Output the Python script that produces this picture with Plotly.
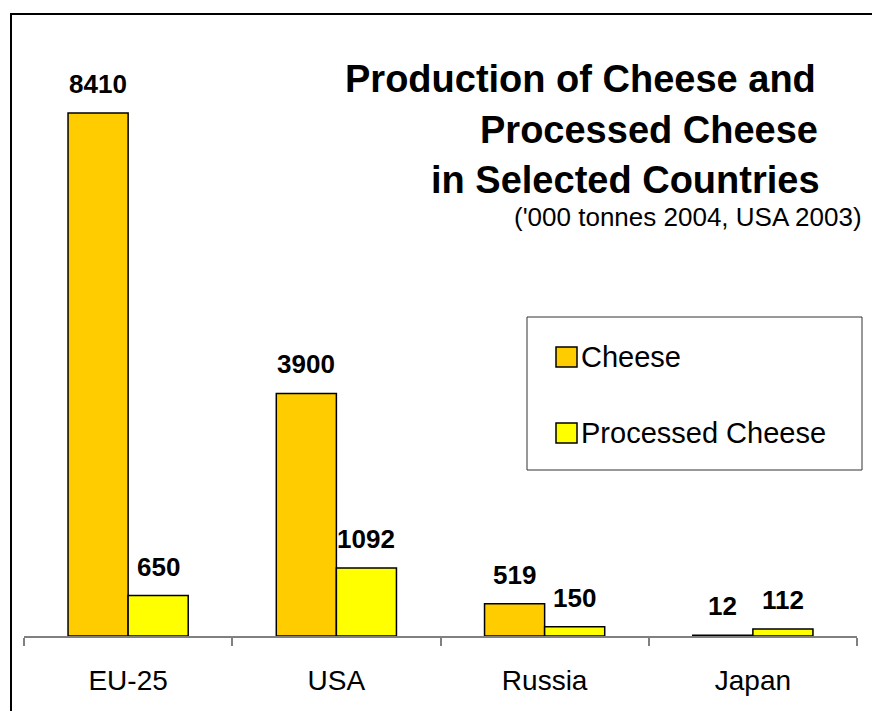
import plotly.graph_objects as go

# Cheese output by producer, thousand tonnes (2004; USA 2003)
countries = ["EU-25", "USA", "Russia", "Japan"]
series_names = ["Cheese", "Processed Cheese"]
cheese = [8410, 3900, 519, 12]
processed_cheese = [650, 1092, 150, 112]
series_values = [cheese, processed_cheese]
series_colors = ["#FFCC00", "#FFFF00"]

title_lines = ["Production of Cheese and", "Processed Cheese", "in Selected Countries"]
subtitle = "('000 tonnes 2004, USA 2003)"

FONT = "Arial, Liberation Sans, sans-serif"

W, H = 872, 711
M_L, M_R, M_T, M_B = 24, 15, 14, 75
PW, PH = W - M_L - M_R, H - M_T - M_B


def px_x(p):
    return (p - M_L) / PW


def px_y(p):
    return (H - M_B - p) / PH


fig = go.Figure()
for name, vals, col in zip(series_names, series_values, series_colors):
    fig.add_trace(go.Bar(
        x=countries, y=vals, name=name,
        marker=dict(color=col, line=dict(color="black", width=1.5)),
        showlegend=False,
    ))

# value labels above each bar
annotations = []
offsets = [-30, 30]
for vals, dx in zip(series_values, offsets):
    for c, v in zip(countries, vals):
        annotations.append(dict(
            x=c, y=v, xref="x", yref="y", text=f"<b>{v}</b>",
            showarrow=False, xshift=dx, yshift=12, yanchor="bottom",
            font=dict(family=FONT, size=26, color="black"),
        ))

# title block, right aligned
title_pos = [(818, 79), (820, 130), (822, 180)]
for line, (xr, ym) in zip(title_lines, title_pos):
    annotations.append(dict(
        x=px_x(xr), y=px_y(ym), xref="paper", yref="paper",
        text=f"<b>{line}</b>", showarrow=False, xanchor="right", yanchor="middle",
        font=dict(family=FONT, size=38, color="black"),
    ))
annotations.append(dict(
    x=px_x(864), y=px_y(217), xref="paper", yref="paper", text=subtitle,
    showarrow=False, xanchor="right", yanchor="middle",
    font=dict(family=FONT, size=26, color="black"),
))

# legend box with swatches
shapes = [
    dict(type="rect", xref="paper", yref="paper",
         x0=px_x(527), x1=px_x(862), y0=px_y(470), y1=px_y(317),
         line=dict(color="#333333", width=1), fillcolor="white", layer="above"),
]
legend_rows = [(347, 357), (423, 433)]
for name, col, (sy, ty) in zip(series_names, series_colors, legend_rows):
    shapes.append(dict(type="rect", xref="paper", yref="paper",
                       x0=px_x(556), x1=px_x(577), y0=px_y(sy + 20), y1=px_y(sy),
                       line=dict(color="black", width=1.5), fillcolor=col, layer="above"))
    annotations.append(dict(
        x=px_x(579), y=px_y(ty), xref="paper", yref="paper", text=name,
        showarrow=False, xanchor="left", yanchor="middle",
        font=dict(family=FONT, size=29, color="black"),
    ))

# outer frame
shapes.append(dict(type="rect", xref="paper", yref="paper",
                   x0=px_x(11), x1=1.2, y0=-0.3, y1=px_y(14),
                   line=dict(color="black", width=2), fillcolor="rgba(0,0,0,0)", layer="above"))

fig.update_layout(
    width=W, height=H,
    margin=dict(l=M_L, r=M_R, t=M_T, b=M_B, pad=0),
    paper_bgcolor="white", plot_bgcolor="white",
    barmode="group", bargap=0.423, bargroupgap=0,
    annotations=annotations, shapes=shapes,
    font=dict(family=FONT, color="black"),
)
fig.update_xaxes(
    type="category", range=[-0.5, 3.5],
    showline=True, linecolor="#808080", linewidth=1.5,
    ticks="outside", tickson="boundaries", ticklen=8, tickcolor="#808080", tickwidth=1.5,
    ticklabelstandoff=19,
    tickfont=dict(family=FONT, size=28, color="black"),
    showgrid=False, zeroline=False,
)
fig.update_yaxes(range=[0, 10000], visible=False, showgrid=False, zeroline=False)

fig.write_html("out.html")
